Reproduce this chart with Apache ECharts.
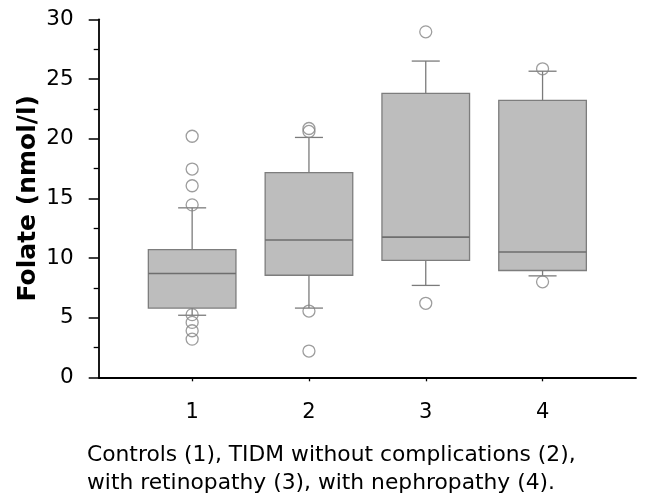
<!DOCTYPE html>
<html><head><meta charset="utf-8">
<script src="https://cdn.jsdelivr.net/npm/echarts@6/dist/echarts.min.js"></script>
<style>html,body{margin:0;padding:0;background:#fff}#c{width:645px;height:499px}</style>
</head><body><div id="c"></div>
<script>
// Data
const groups = [1, 2, 3, 4];
const whiskerLow = [5.2, 5.8, 7.7, 8.5];
const quartile1 = [5.8, 8.55, 9.8, 8.95];
const medians = [8.7, 11.5, 11.75, 10.5];
const quartile3 = [10.7, 17.15, 23.8, 23.2];
const whiskerHigh = [14.2, 20.1, 26.5, 25.65];
const outliers1 = [20.2, 17.45, 16.05, 14.45, 5.25, 4.6, 3.9, 3.2];
const outliers2 = [20.85, 20.6, 5.55, 2.2];
const outliers3 = [28.95, 6.2];
const outliers4 = [25.85, 8.0];
const yTicks = [0, 5, 10, 15, 20, 25, 30];
const yName = 'Folate (nmol/l)';
const captionLines = ['Controls (1), TIDM without complications (2),', 'with retinopathy (3), with nephropathy (4).'];

const outlierGroups = [outliers1, outliers2, outliers3, outliers4];
const boxData = groups.map((g, i) => [g, whiskerLow[i], quartile1[i], medians[i], quartile3[i], whiskerHigh[i]]);
const outlierData = [];
outlierGroups.forEach((arr, i) => arr.forEach(v => outlierData.push([groups[i], v])));

const FONT = 'DejaVu Sans';
const chart = echarts.init(document.getElementById('c'), null, {renderer: 'canvas'});
chart.setOption({
  backgroundColor: '#fff',
  animation: false,
  title: {
    text: captionLines.join('\n'),
    left: 82, top: 436,
    textStyle: {fontFamily: FONT, fontSize: 21.8, fontWeight: 'normal', color: '#000', lineHeight: 28}
  },
  grid: {left: 98.7, right: 9, top: 19.3, bottom: 121.7, containLabel: false},
  xAxis: {
    type: 'value', min: 0.2, max: 4.8,
    splitLine: {show: false},
    axisLine: {lineStyle: {color: '#000', width: 1.8}},
    axisTick: {show: true, customValues: groups, length: 4, lineStyle: {color: '#000', width: 1.3}},
    axisLabel: {customValues: groups, fontFamily: FONT, fontSize: 21, color: '#000', margin: 25}
  },
  yAxis: {
    type: 'value', min: yTicks[0], max: yTicks[yTicks.length - 1], interval: 5,
    name: yName, nameLocation: 'middle', nameGap: 58, nameMoveOverlap: false,
    nameTextStyle: {fontFamily: FONT, fontSize: 25, fontWeight: 'bold', color: '#000'},
    splitLine: {show: false},
    axisLine: {show: true, lineStyle: {color: '#000', width: 1.8}},
    axisTick: {show: true, length: 10, lineStyle: {color: '#000', width: 1.5}},
    minorTick: {show: true, splitNumber: 2, length: 5, lineStyle: {color: '#000', width: 1.3}},
    axisLabel: {fontFamily: FONT, fontSize: 21.5, color: '#000', margin: 25}
  },
  series: [
    {
      type: 'custom',
      data: boxData,
      encode: {x: 0, y: [1, 2, 3, 4, 5]},
      renderItem: function (params, api) {
        const x = api.value(0);
        const pLow = api.coord([x, api.value(1)]);
        const pQ1 = api.coord([x, api.value(2)]);
        const pMed = api.coord([x, api.value(3)]);
        const pQ3 = api.coord([x, api.value(4)]);
        const pHigh = api.coord([x, api.value(5)]);
        const boxW = api.size([0.75, 0])[0];
        const capW = api.size([0.24, 0])[0];
        const cx = pMed[0];
        const lineStyle = {stroke: '#7b7b7b', lineWidth: 1.3};
        return {
          type: 'group',
          children: [
            {type: 'line', shape: {x1: cx, y1: pQ3[1], x2: cx, y2: pHigh[1]}, style: lineStyle},
            {type: 'line', shape: {x1: cx, y1: pQ1[1], x2: cx, y2: pLow[1]}, style: lineStyle},
            {type: 'line', shape: {x1: cx - capW / 2, y1: pHigh[1], x2: cx + capW / 2, y2: pHigh[1]}, style: lineStyle},
            {type: 'line', shape: {x1: cx - capW / 2, y1: pLow[1], x2: cx + capW / 2, y2: pLow[1]}, style: lineStyle},
            {type: 'rect', shape: {x: cx - boxW / 2, y: pQ3[1], width: boxW, height: pQ1[1] - pQ3[1]},
              style: {fill: '#bdbdbd', stroke: '#7d7d7d', lineWidth: 1.3}},
            {type: 'line', shape: {x1: cx - boxW / 2, y1: pMed[1], x2: cx + boxW / 2, y2: pMed[1]},
              style: {stroke: '#6e6e6e', lineWidth: 1.6}}
          ]
        };
      },
      z: 2
    },
    {
      type: 'scatter',
      data: outlierData,
      symbol: 'circle',
      symbolSize: 12,
      itemStyle: {color: 'rgba(255,255,255,0)', borderColor: '#858585', borderWidth: 1.3},
      z: 3
    }
  ]
});
</script>
</body></html>
